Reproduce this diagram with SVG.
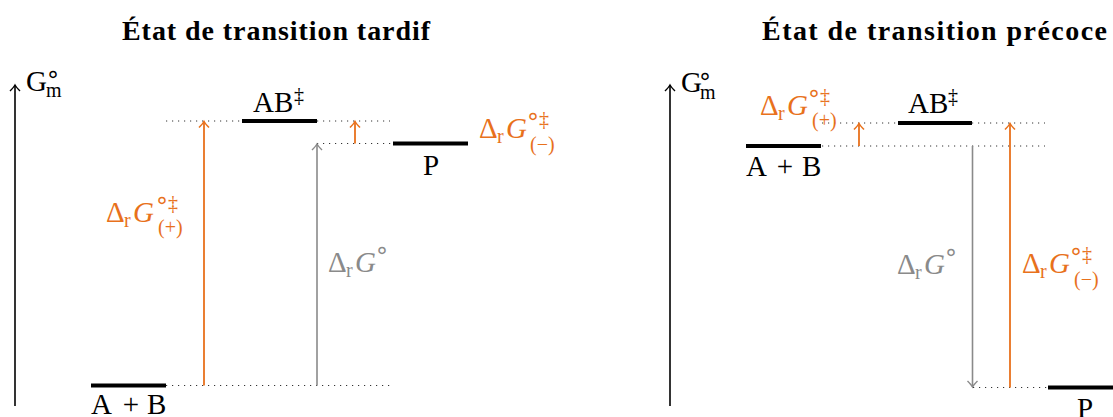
<svg xmlns="http://www.w3.org/2000/svg" width="1113" height="417" viewBox="0 0 1113 417">
<style>
text{font-family:"Liberation Serif","Times New Roman",serif;}
.t{font-size:28px;font-weight:bold;fill:#000;}
.m{font-size:29px;fill:#000;}
.s{font-size:20px;}
.c{font-size:24px;font-family:"DejaVu Sans","Liberation Serif",sans-serif;text-anchor:middle;}
.i{font-style:italic;}
.o{fill:#e8711c;}
.g{fill:#8a8a8a;}
.lvl{stroke:#000;stroke-width:4;}
.dot{stroke:#333;stroke-width:1;stroke-dasharray:1.2 4.8;}
.ax{stroke:#000;stroke-width:1.6;fill:none;}
.ao{stroke:#e8711c;stroke-width:1.8;fill:none;}
.ag{stroke:#8a8a8a;stroke-width:1.6;fill:none;}
</style>
<defs>
<marker id="hk" markerUnits="userSpaceOnUse" markerWidth="14" markerHeight="14" viewBox="-8 -7 10 14" refX="0" refY="0" orient="auto"><path d="M-6,-5 Q-2,-1 0,0 Q-2,1 -6,5" fill="none" stroke="#000" stroke-width="1.4"/></marker>
<marker id="ho" markerUnits="userSpaceOnUse" markerWidth="14" markerHeight="14" viewBox="-8 -7 10 14" refX="0" refY="0" orient="auto"><path d="M-6,-5 Q-2,-1 0,0 Q-2,1 -6,5" fill="none" stroke="#e8711c" stroke-width="1.6"/></marker>
<marker id="hg" markerUnits="userSpaceOnUse" markerWidth="14" markerHeight="14" viewBox="-8 -7 10 14" refX="0" refY="0" orient="auto"><path d="M-6,-5 Q-2,-1 0,0 Q-2,1 -6,5" fill="none" stroke="#8a8a8a" stroke-width="1.4"/></marker>
</defs>

<!-- titles -->
<text id="title-left" class="t" x="122" y="40" textLength="308" lengthAdjust="spacing">État de transition tardif</text>
<text id="title-right" class="t" x="762" y="40" textLength="345" lengthAdjust="spacing">État de transition précoce</text>

<!-- connectors -->
<g id="connectors">
  <line class="dot" x1="166" y1="385.5" x2="390" y2="385.5"/>
  <line class="dot" x1="166" y1="121" x2="242" y2="121"/>
  <line class="dot" x1="317" y1="121" x2="390" y2="121"/>
  <line class="dot" x1="317" y1="143.5" x2="393" y2="143.5"/>
  <line class="dot" x1="822" y1="123" x2="898" y2="123"/>
  <line class="dot" x1="972" y1="123" x2="1045" y2="123"/>
  <line class="dot" x1="822" y1="146" x2="1045" y2="146"/>
  <line class="dot" x1="973" y1="387.5" x2="1048" y2="387.5"/>
  <line class="ax" x1="15" y1="406" x2="15" y2="85" marker-end="url(#hk)"/>
  <line class="ax" x1="670" y1="406" x2="670" y2="85" marker-end="url(#hk)"/>
  <line class="ao" x1="204" y1="385.5" x2="204" y2="121.5" marker-end="url(#ho)"/>
  <line class="ag" x1="317" y1="385.5" x2="317" y2="144" marker-end="url(#hg)"/>
  <line class="ao" x1="355" y1="143.5" x2="355" y2="121.5" marker-end="url(#ho)"/>
  <line class="ao" x1="859" y1="146" x2="859" y2="123.5" marker-end="url(#ho)"/>
  <line class="ag" x1="972.5" y1="146" x2="972.5" y2="387" marker-end="url(#hg)"/>
  <line class="ao" x1="1010" y1="387.5" x2="1010" y2="123.5" marker-end="url(#ho)"/>
</g>

<!-- axis labels -->
<g id="axis-left">
  <text class="m" x="26" y="91">G</text>
  <text class="c" x="53" y="82">∘</text>
  <text class="s" x="46" y="97">m</text>
</g>
<g id="axis-right">
  <text class="m" x="681" y="92">G</text>
  <text class="c" x="705" y="84">∘</text>
  <text class="s" x="700" y="99">m</text>
</g>

<!-- left panel nodes -->
<g id="left-reactants">
  <line class="lvl" x1="91" y1="385.5" x2="166" y2="385.5"/>
  <text class="m" x="91" y="414">A</text>
  <text class="m" x="131" y="414" text-anchor="middle">+</text>
  <text class="m" x="147" y="414">B</text>
</g>
<g id="left-ts">
  <line class="lvl" x1="242" y1="121" x2="317" y2="121"/>
  <text class="m" x="253" y="112">AB</text>
  <text class="s" x="294" y="102">‡</text>
</g>
<g id="left-products">
  <line class="lvl" x1="393" y1="143.5" x2="468" y2="143.5"/>
  <text class="m" x="431" y="175" text-anchor="middle">P</text>
</g>

<!-- right panel nodes -->
<g id="right-reactants">
  <line class="lvl" x1="746" y1="146" x2="821" y2="146"/>
  <text class="m" x="746" y="176">A</text>
  <text class="m" x="785" y="176" text-anchor="middle">+</text>
  <text class="m" x="802" y="176">B</text>
</g>
<g id="right-ts">
  <line class="lvl" x1="898" y1="123" x2="972" y2="123"/>
  <text class="m" x="908" y="113">AB</text>
  <text class="s" x="948" y="103">‡</text>
</g>
<g id="right-products">
  <line class="lvl" x1="1048" y1="387.5" x2="1113" y2="387.5"/>
  <text class="m" x="1077" y="418">P</text>
</g>

<!-- energy labels -->
<g id="label-left-ts-plus">
  <text class="m o" x="106" y="222">Δ</text>
  <text class="s o" x="124" y="227">r</text>
  <text class="m o i" x="133" y="222">G</text>
  <text class="c o" x="162" y="208">∘</text>
  <text class="s o" x="168" y="210">‡</text>
  <text class="s o" x="158" y="234">(+)</text>
</g>
<g id="label-left-dg">
  <text class="m g" x="328" y="272">Δ</text>
  <text class="s g" x="346" y="277">r</text>
  <text class="m g i" x="355" y="272">G</text>
  <text class="c g" x="382" y="258">∘</text>
</g>
<g id="label-left-ts-minus">
  <text class="m o" x="479" y="138">Δ</text>
  <text class="s o" x="497" y="143">r</text>
  <text class="m o i" x="506" y="138">G</text>
  <text class="c o" x="533" y="124">∘</text>
  <text class="s o" x="539" y="126">‡</text>
  <text class="s o" x="530" y="151">(−)</text>
</g>
<g id="label-right-ts-plus">
  <text class="m o" x="760" y="115">Δ</text>
  <text class="s o" x="778" y="120">r</text>
  <text class="m o i" x="787" y="115">G</text>
  <text class="c o" x="814" y="101">∘</text>
  <text class="s o" x="820" y="103">‡</text>
  <text class="s o" x="812" y="127">(+)</text>
</g>
<g id="label-right-dg">
  <text class="m g" x="897" y="274">Δ</text>
  <text class="s g" x="915" y="279">r</text>
  <text class="m g i" x="924" y="274">G</text>
  <text class="c g" x="951" y="260">∘</text>
</g>
<g id="label-right-ts-minus">
  <text class="m o" x="1022" y="273">Δ</text>
  <text class="s o" x="1040" y="278">r</text>
  <text class="m o i" x="1049" y="273">G</text>
  <text class="c o" x="1076" y="259">∘</text>
  <text class="s o" x="1082" y="261">‡</text>
  <text class="s o" x="1074" y="286">(−)</text>
</g>
</svg>
